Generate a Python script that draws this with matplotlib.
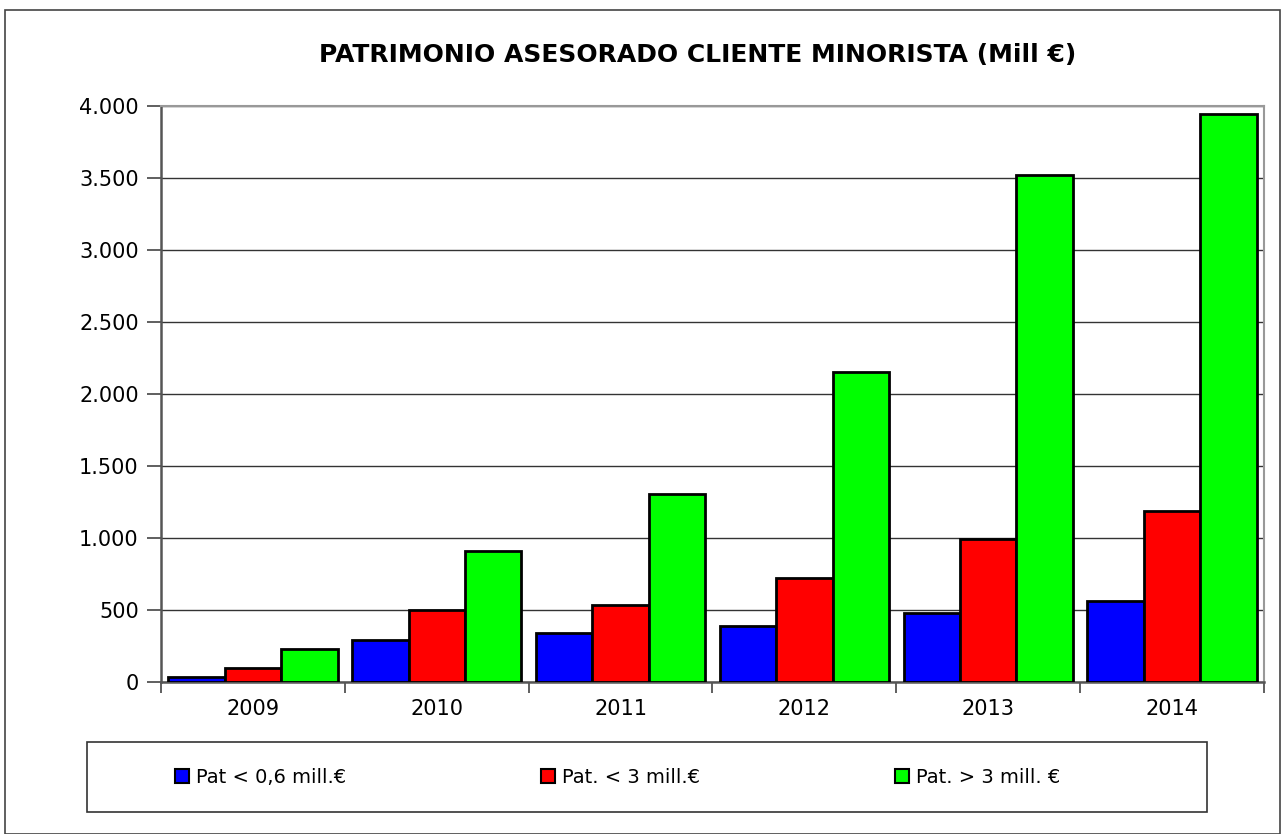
import numpy as np
import matplotlib.pyplot as plt
from matplotlib.patches import Rectangle

# dane
lata = ['2009', '2010', '2011', '2012', '2013', '2014']
pat_06 = [35, 292, 340, 389, 479, 562]
pat_3 = [97, 500, 535, 722, 993, 1188]
pat_gt3 = [229, 910, 1306, 2153, 3521, 3944]
etykiety = ['Pat < 0,6 mill.€', 'Pat. < 3 mill.€', 'Pat. > 3 mill. €']
kolory = ['#0000ff', '#ff0000', '#00ff00']

fig = plt.figure(figsize=(12.84, 8.34), dpi=100)
# ramka wykresu
fig.patches.append(Rectangle((0.004, 0.0), 0.993, 0.988, transform=fig.transFigure,
                             fill=False, edgecolor='#444444', lw=1.2))
# ramka legendy
fig.patches.append(Rectangle((0.0678, 0.0264), 0.872, 0.084, transform=fig.transFigure,
                             fill=False, edgecolor='#333333', lw=1.2))
ax = fig.add_axes([0.1254, 0.1823, 0.859, 0.6906])

x = np.arange(len(lata))
w = 0.307
for i, (vals, c, lab) in enumerate(zip([pat_06, pat_3, pat_gt3], kolory, etykiety)):
    ax.bar(x + (i - 1) * w, vals, w, color=c, edgecolor='black', linewidth=2, label=lab, zorder=3)

ax.set_xlim(-0.5, len(lata) - 0.5)
ax.set_ylim(0, 4000)
ax.set_yticks(np.arange(0, 4001, 500))
ax.set_yticklabels(['{:,}'.format(v).replace(',', '.') for v in range(0, 4001, 500)], fontsize=15)
ax.set_xticks(x)
ax.set_xticklabels(lata, fontsize=15)
ax.set_xticks(np.arange(-0.5, len(lata)), minor=True)
ax.tick_params(axis='x', which='major', length=0, pad=12)
ax.tick_params(axis='x', which='minor', length=8, width=1.2, color='#444444')
ax.tick_params(axis='y', length=10, width=1.2, color='#444444', pad=6)
ax.grid(True, axis='y', color='#333333', lw=1, zorder=0)

for s in ['left', 'bottom']:
    ax.spines[s].set_color('#555555')
    ax.spines[s].set_linewidth(1.8)
for s in ['top', 'right']:
    ax.spines[s].set_color('#999999')
    ax.spines[s].set_linewidth(1.5)

fig.text(0.543, 0.934, 'PATRIMONIO ASESORADO CLIENTE MINORISTA (Mill €)',
         ha='center', va='center', fontsize=18, fontweight='bold')

leg = fig.legend(loc='center', bbox_to_anchor=(0.481, 0.068),
                 ncol=3, fontsize=14, frameon=False,
                 handlelength=0.75, handleheight=0.75, handletextpad=0.35,
                 borderaxespad=0, columnspacing=10)
for h in leg.legend_handles:
    h.set_linewidth(1.5)

plt.savefig('out.png', dpi=100)
